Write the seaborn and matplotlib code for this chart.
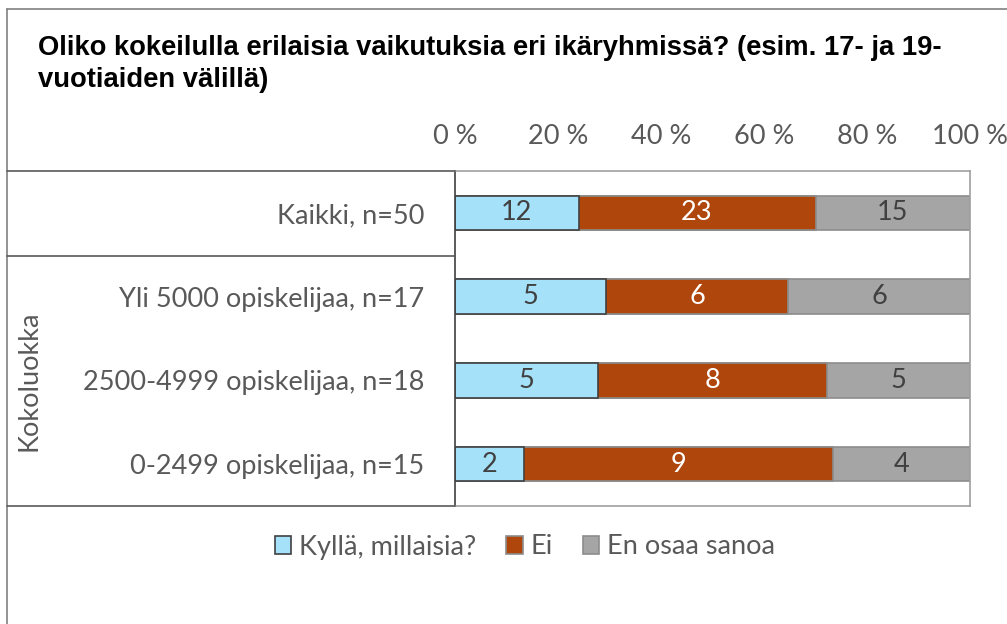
import matplotlib
matplotlib.use("Agg")
import matplotlib.pyplot as plt
from matplotlib.lines import Line2D
from matplotlib.patches import Patch
import numpy as np
import pandas as pd
import seaborn as sns

categories = ["Kaikki, n=50", "Yli 5000 opiskelijaa, n=17",
              "2500-4999 opiskelijaa, n=18", "0-2499 opiskelijaa, n=15"]
kylla = [12, 5, 5, 2]
ei = [23, 6, 8, 9]
eos = [15, 6, 5, 4]
series_names = ["Kyllä, millaisia?", "Ei", "En osaa sanoa"]
xticks = [0, 20, 40, 60, 80, 100]
xtick_labels = ["0 %", "20 %", "40 %", "60 %", "80 %", "100 %"]
title = "Oliko kokeilulla erilaisia vaikutuksia eri ikäryhmissä? (esim. 17- ja 19-\nvuotiaiden välillä)"
group_label = "Kokoluokka"

sns.set_style("white")
plt.rcParams['font.family'] = ['Lato', 'DejaVu Sans']

colors = ["#A6E1FA", "#AF470D", "#A5A5A5"]
edges = ["#404040", "#8C8C8C", "#8C8C8C"]
txt_colors = ["#404040", "white", "#404040"]
grey = "#595959"
FS = 19.5

counts = np.array([kylla, ei, eos], dtype=float)
pct = counts / counts.sum(axis=0) * 100
cum = np.cumsum(pct, axis=0)
df = pd.DataFrame({"cat": categories, "p1": cum[0], "p2": cum[1], "p3": cum[2]})

fig = plt.figure(figsize=(10.07, 6.24), dpi=100)
W, H = 1007, 624
ax = fig.add_axes([455 / W, 1 - 506 / H, (970 - 455) / W, (506 - 171) / H])

# stacked by layering cumulative bars
for col, c, e in zip(["p3", "p2", "p1"], colors[::-1], edges[::-1]):
    sns.barplot(data=df, y="cat", x=col, orient="h", color=c, width=0.41,
                edgecolor=e, linewidth=1.2, saturation=1, ax=ax)

for i in range(len(categories)):
    starts = np.concatenate([[0], cum[:-1, i]])
    for k in range(3):
        ax.text(starts[k] + pct[k, i] / 2, i, f"{int(counts[k, i])}",
                ha="center", va="center", fontsize=FS, color=txt_colors[k])

ax.set_xlim(0, 100)
ax.set_ylim(3.5, -0.5)
ax.xaxis.tick_top()
ax.set_xticks(xticks)
ax.set_xticklabels(xtick_labels)
ax.tick_params(axis="x", length=0, pad=16, labelsize=FS, labelcolor=grey)
ax.tick_params(axis="y", length=0, pad=22, labelsize=FS, labelcolor=grey)
ax.set_xlabel("")
ax.set_ylabel("")
for s in ["top", "right", "bottom"]:
    ax.spines[s].set_color("#A0A0A0")
    ax.spines[s].set_linewidth(1.2)
ax.spines["left"].set_color("#404040")
ax.spines["left"].set_linewidth(1.2)

# frame and left table lines
def fline(x0, y0, x1, y1, color):
    fig.add_artist(Line2D([x0 / W, x1 / W], [1 - y0 / H, 1 - y1 / H],
                          color=color, lw=1.2))

fline(7, 9, 1007, 9, "#808080")
fline(7, 9, 7, 624, "#808080")
fline(7, 171, 455, 171, grey)
fline(7, 256, 455, 256, grey)
fline(7, 506, 455, 506, grey)

fig.text(29 / W, 1 - 381 / H, group_label, rotation=90, ha="center",
         va="center", fontsize=FS, color=grey)

fig.text(38 / W, 1 - 64 / H, title, ha="left", va="center", fontsize=19.75,
         fontweight="bold", family=["Liberation Sans", "DejaVu Sans"],
         linespacing=1.3, color="black")

handles = [Patch(facecolor=c, edgecolor=e, linewidth=1.2)
           for c, e in zip(colors, edges)]
fig.legend(handles, series_names, loc="center", bbox_to_anchor=(525 / W, 1 - 547 / H),
           ncol=3, frameon=False, fontsize=FS, labelcolor=grey,
           handlelength=0.6, handleheight=0.6, handletextpad=0.3,
           columnspacing=1.1)

fig.savefig("out.png", dpi=100)
